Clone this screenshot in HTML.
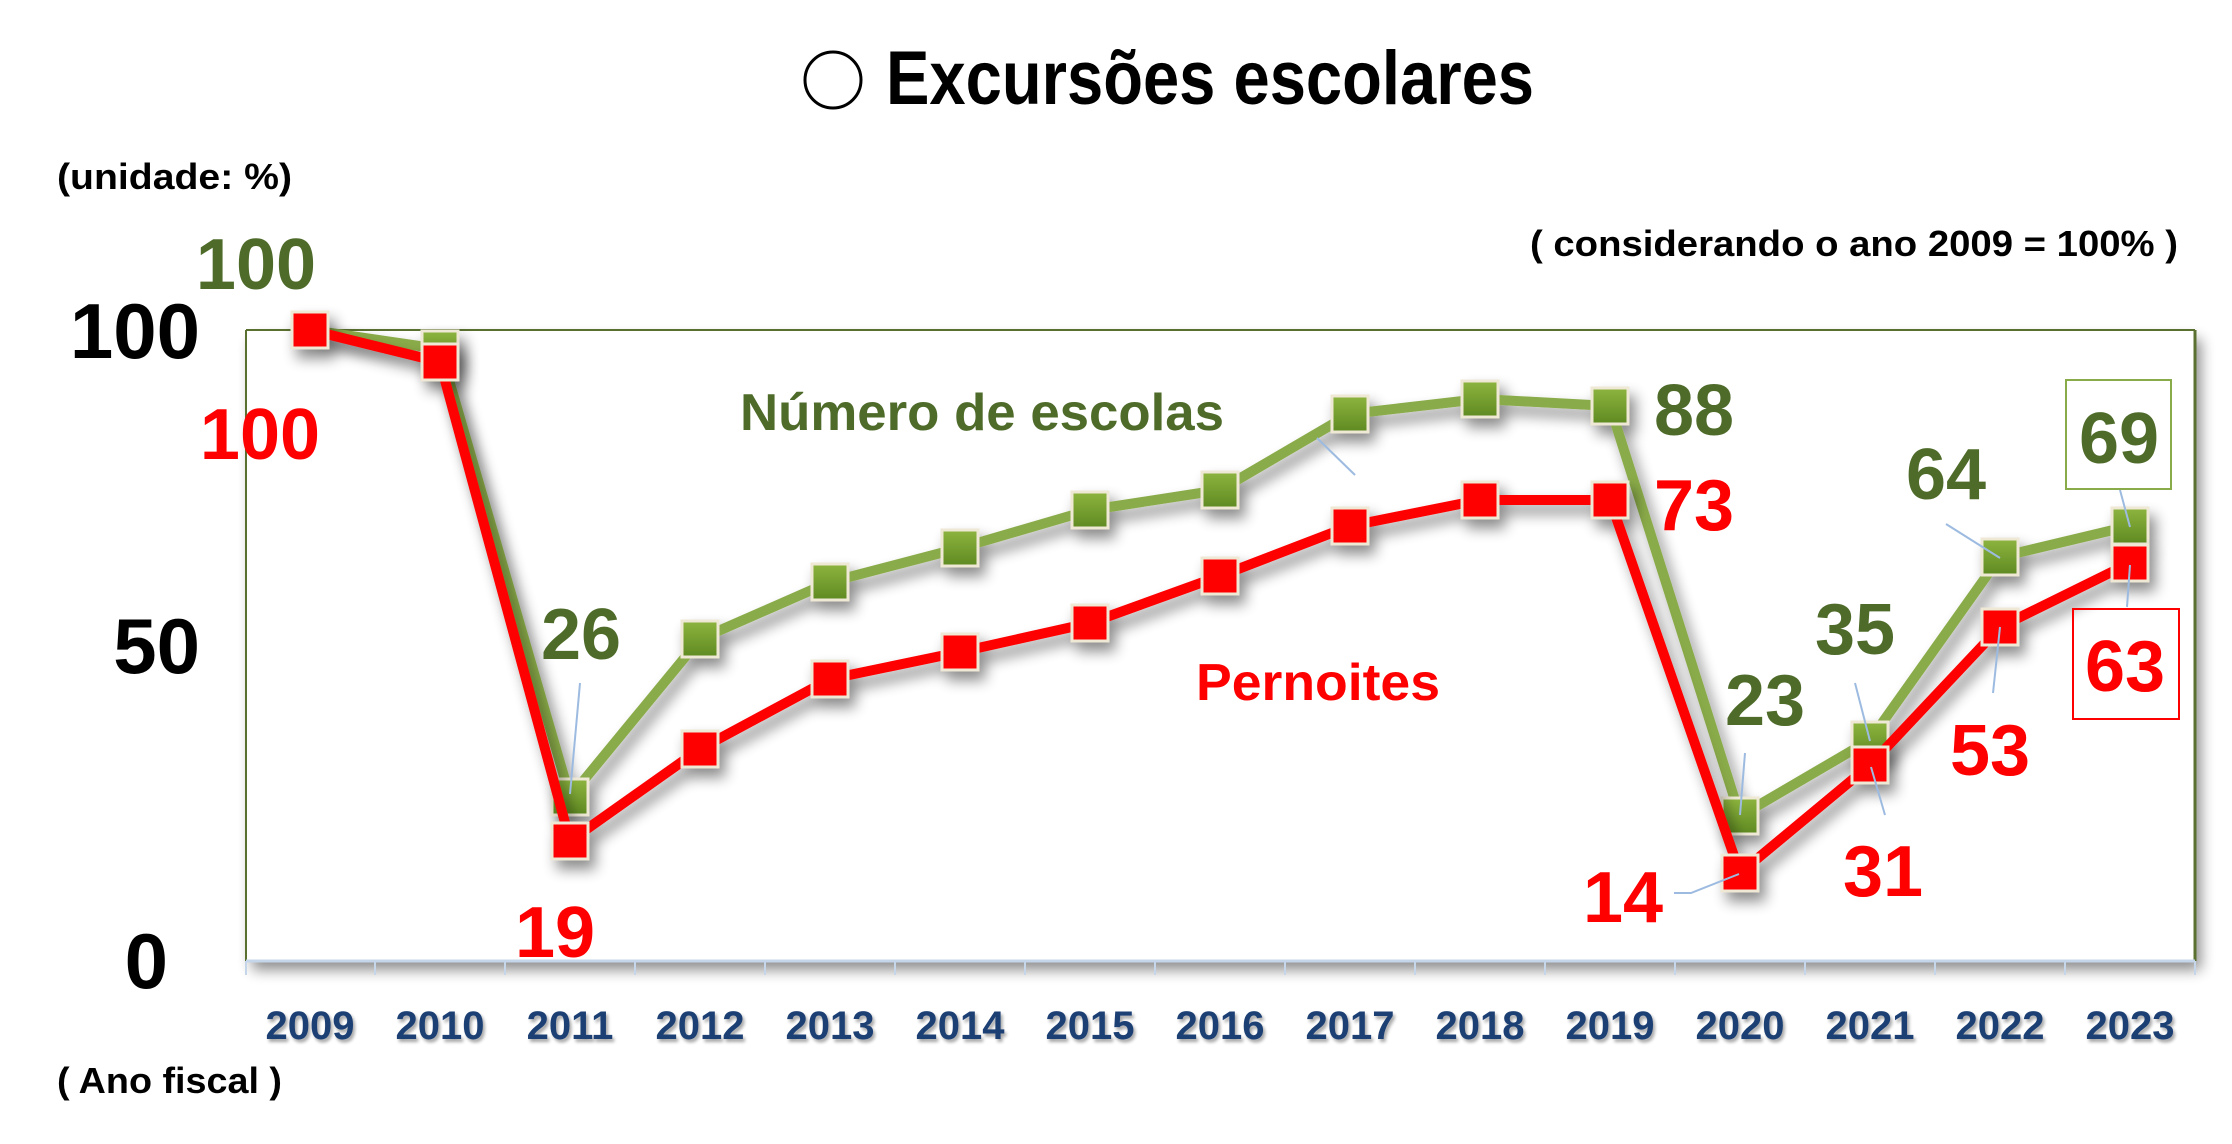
<!DOCTYPE html>
<html><head><meta charset="utf-8"><style>
html,body{margin:0;padding:0;background:#fff;}
svg{display:block;}
text{font-family:"Liberation Sans",sans-serif;font-weight:bold;}
</style></head><body>
<svg width="2232" height="1144" viewBox="0 0 2232 1144" xmlns="http://www.w3.org/2000/svg">
<defs>
<filter id="sh" x="-10%" y="-10%" width="130%" height="130%">
<feGaussianBlur in="SourceAlpha" stdDeviation="7"/><feOffset dx="6" dy="9" result="b"/>
<feComponentTransfer><feFuncA type="linear" slope="0.45"/></feComponentTransfer>
<feMerge><feMergeNode/><feMergeNode in="SourceGraphic"/></feMerge></filter>
<filter id="ts" x="-5%" y="-5%" width="115%" height="130%">
<feGaussianBlur in="SourceAlpha" stdDeviation="1.5"/><feOffset dx="2" dy="3"/>
<feComponentTransfer><feFuncA type="linear" slope="0.35"/></feComponentTransfer>
<feMerge><feMergeNode/><feMergeNode in="SourceGraphic"/></feMerge></filter>
<linearGradient id="gg" x1="0" y1="0" x2="0" y2="1"><stop offset="0" stop-color="#8db43e"/><stop offset="1" stop-color="#5f8a22"/></linearGradient>
</defs>
<circle cx="833" cy="80" r="28" fill="none" stroke="#000" stroke-width="3"/>
<text x="886" y="104" font-size="76" textLength="648" lengthAdjust="spacingAndGlyphs">Excursões escolares</text>
<text x="57" y="189" font-size="36" textLength="235" lengthAdjust="spacingAndGlyphs">(unidade: %)</text>
<text x="1530" y="256" font-size="36" textLength="648" lengthAdjust="spacingAndGlyphs">( considerando o ano 2009 = 100% )</text>
<g filter="url(#sh)">
<rect x="246" y="330" width="1949" height="631" fill="#fff"/>
</g>
<line x1="246" y1="330" x2="2195" y2="330" stroke="#5a7030" stroke-width="2"/>
<line x1="246" y1="330" x2="246" y2="961" stroke="#5a7030" stroke-width="2"/>
<line x1="2195" y1="330" x2="2195" y2="961" stroke="#5a7030" stroke-width="3"/>
<line x1="246" y1="961" x2="2195" y2="961" stroke="#c5d5ea" stroke-width="3"/>
<g stroke="#c5d5ea" stroke-width="2">
<line x1="246" y1="961" x2="246" y2="975"/><line x1="375" y1="961" x2="375" y2="975"/><line x1="505" y1="961" x2="505" y2="975"/><line x1="635" y1="961" x2="635" y2="975"/><line x1="765" y1="961" x2="765" y2="975"/><line x1="895" y1="961" x2="895" y2="975"/><line x1="1025" y1="961" x2="1025" y2="975"/><line x1="1155" y1="961" x2="1155" y2="975"/><line x1="1285" y1="961" x2="1285" y2="975"/><line x1="1415" y1="961" x2="1415" y2="975"/><line x1="1545" y1="961" x2="1545" y2="975"/><line x1="1675" y1="961" x2="1675" y2="975"/><line x1="1805" y1="961" x2="1805" y2="975"/><line x1="1935" y1="961" x2="1935" y2="975"/><line x1="2065" y1="961" x2="2065" y2="975"/><line x1="2195" y1="961" x2="2195" y2="975"/>
</g>
<g font-size="78" fill="#000" text-anchor="end">
<text x="200" y="358">100</text><text x="200" y="673">50</text><text x="168" y="988">0</text>
</g>
<g font-size="40" fill="#1f3f73" text-anchor="middle" filter="url(#ts)">
<text x="310" y="1039">2009</text><text x="440" y="1039">2010</text><text x="570" y="1039">2011</text><text x="700" y="1039">2012</text><text x="830" y="1039">2013</text><text x="960" y="1039">2014</text><text x="1090" y="1039">2015</text><text x="1220" y="1039">2016</text><text x="1350" y="1039">2017</text><text x="1480" y="1039">2018</text><text x="1610" y="1039">2019</text><text x="1740" y="1039">2020</text><text x="1870" y="1039">2021</text><text x="2000" y="1039">2022</text><text x="2130" y="1039">2023</text>
</g>
<text x="57" y="1093" font-size="36" textLength="225" lengthAdjust="spacingAndGlyphs">( Ano fiscal )</text>
<g filter="url(#sh)">
<polyline fill="none" stroke="#8aab4a" stroke-width="10" stroke-linejoin="round" points="310,330 440,349 570,797 700,639 830,582 960,548 1090,510 1220,490 1350,414 1480,399 1610,406 1740,816 1870,740 2000,557 2130,526"/>
<g fill="url(#gg)" stroke="#eee8d5" stroke-width="3">
<rect x="422" y="331" width="36" height="36"/><rect x="552" y="779" width="36" height="36"/><rect x="682" y="621" width="36" height="36"/><rect x="812" y="564" width="36" height="36"/><rect x="942" y="530" width="36" height="36"/><rect x="1072" y="492" width="36" height="36"/><rect x="1202" y="472" width="36" height="36"/><rect x="1332" y="396" width="36" height="36"/><rect x="1462" y="381" width="36" height="36"/><rect x="1592" y="388" width="36" height="36"/><rect x="1722" y="798" width="36" height="36"/><rect x="1852" y="722" width="36" height="36"/><rect x="1982" y="539" width="36" height="36"/><rect x="2112" y="508" width="36" height="36"/>
</g>
</g>
<g filter="url(#sh)">
<polyline fill="none" stroke="#ff0000" stroke-width="10" stroke-linejoin="round" points="310,330 440,362 570,841 700,749 830,679 960,652 1090,623 1220,576 1350,526 1480,500 1610,500 1740,873 1870,765 2000,627 2130,563"/>
<g fill="#ff0000" stroke="#eee8d5" stroke-width="3">
<rect x="292" y="312" width="36" height="36"/><rect x="422" y="344" width="36" height="36"/><rect x="552" y="823" width="36" height="36"/><rect x="682" y="731" width="36" height="36"/><rect x="812" y="661" width="36" height="36"/><rect x="942" y="634" width="36" height="36"/><rect x="1072" y="605" width="36" height="36"/><rect x="1202" y="558" width="36" height="36"/><rect x="1332" y="508" width="36" height="36"/><rect x="1462" y="482" width="36" height="36"/><rect x="1592" y="482" width="36" height="36"/><rect x="1722" y="855" width="36" height="36"/><rect x="1852" y="747" width="36" height="36"/><rect x="1982" y="609" width="36" height="36"/><rect x="2112" y="545" width="36" height="36"/>
</g>
</g>
<g stroke="#9dbbe0" stroke-width="2" fill="none">
<line x1="580" y1="683" x2="570" y2="794"/>
<line x1="1317" y1="438" x2="1355" y2="475"/>
<line x1="1745" y1="753" x2="1740" y2="815"/>
<polyline points="1674,893 1691,893 1739,874"/>
<line x1="1855" y1="683" x2="1870" y2="741"/>
<line x1="1871" y1="767" x2="1885" y2="815"/>
<line x1="1946" y1="524" x2="2000" y2="558"/>
<line x1="2000" y1="627" x2="1993" y2="693"/>
<line x1="2120" y1="490" x2="2130" y2="527"/>
<line x1="2130" y1="565" x2="2127" y2="607"/>
</g>
<g font-size="72" text-anchor="middle" fill="#4e6b2a">
<text x="256" y="289">100</text>
<text x="581" y="659">26</text>
<text x="1694" y="435">88</text>
<text x="1765" y="725">23</text>
<text x="1855" y="654">35</text>
<text x="1946" y="499">64</text>
<text x="2119" y="463">69</text>
</g>
<g font-size="72" text-anchor="middle" fill="#ff0000">
<text x="260" y="459">100</text>
<text x="555" y="957">19</text>
<text x="1694" y="530">73</text>
<text x="1623" y="922">14</text>
<text x="1883" y="896">31</text>
<text x="1990" y="775">53</text>
<text x="2125" y="691">63</text>
</g>
<rect x="2066" y="380" width="105" height="109" fill="none" stroke="#8aab4a" stroke-width="2"/>
<rect x="2073" y="609" width="106" height="110" fill="none" stroke="#ff0000" stroke-width="2"/>
<text x="982" y="430" font-size="52" text-anchor="middle" fill="#4e6b2a" textLength="484" lengthAdjust="spacingAndGlyphs">Número de escolas</text>
<text x="1318" y="700" font-size="52" text-anchor="middle" fill="#ff0000" textLength="244" lengthAdjust="spacingAndGlyphs">Pernoites</text>
</svg>
</body></html>
